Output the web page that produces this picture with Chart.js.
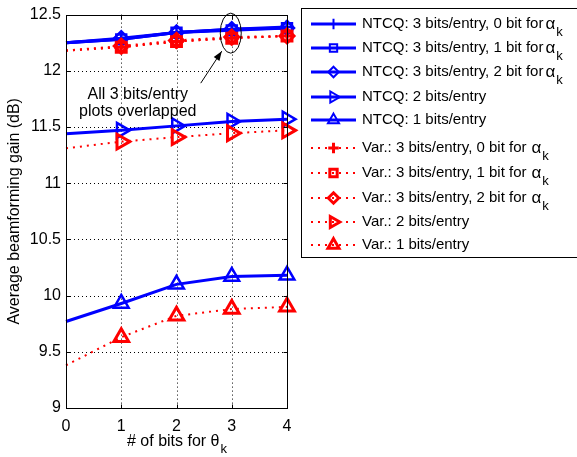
<!DOCTYPE html>
<html><head><meta charset="utf-8">
<script src="https://cdn.jsdelivr.net/npm/chart.js@4.4.0/dist/chart.umd.min.js"></script>
<style>html,body{margin:0;padding:0;background:#fff}#w{width:577px;height:457px;position:relative}</style>
</head><body>
<div id="w"><canvas id="c" width="577" height="457"></canvas></div>
<script>
// ---- data ----
const xValues = [0, 1, 2, 3, 4];
const yMin = 9, yMax = 12.5, yStep = 0.5;
const ntcq3b0 = [12.25, 12.28, 12.34, 12.37, 12.39];
const ntcq3b1 = [12.25, 12.28, 12.34, 12.36, 12.38];
const ntcq3b2 = [12.25, 12.29, 12.34, 12.37, 12.38];
const ntcq2   = [11.44, 11.47, 11.51, 11.55, 11.57];
const ntcq1   = [9.77, 9.93, 10.10, 10.17, 10.18];
const var3b0  = [12.18, 12.21, 12.26, 12.29, 12.31];
const var3b1  = [12.18, 12.21, 12.26, 12.29, 12.31];
const var3b2  = [12.18, 12.22, 12.27, 12.30, 12.31];
const var2    = [11.31, 11.37, 11.41, 11.445, 11.47];
const var1    = [9.38, 9.63, 9.82, 9.88, 9.90];
const legendTexts = [
  "NTCQ: 3 bits/entry, 0 bit for", "NTCQ: 3 bits/entry, 1 bit for", "NTCQ: 3 bits/entry, 2 bit for",
  "NTCQ: 2 bits/entry", "NTCQ: 1 bits/entry",
  "Var.: 3 bits/entry, 0 bit for", "Var.: 3 bits/entry, 1 bit for", "Var.: 3 bits/entry, 2 bit for",
  "Var.: 2 bits/entry", "Var.: 1 bits/entry"
];
const legendAlpha = [true, true, true, false, false, true, true, true, false, false];
const xTitle = "# of bits for θ";
const xTitleSub = "k";
const yTitle = "Average beamforming gain (dB)";
const noteLines = ["All 3 bits/entry", "plots overlapped"];
const noteTarget = {x: 3, y: 12.335};

const FONT = "'Liberation Sans', Arial, sans-serif";
const BLUE = '#0000ff', RED = '#ff0000';
const series = [
  {d: ntcq3b0, c: BLUE, m: 'cross', r: 7},
  {d: ntcq3b1, c: BLUE, m: 'rect', r: 7},
  {d: ntcq3b2, c: BLUE, m: 'diamond', r: 7},
  {d: ntcq2, c: BLUE, m: 'triR', r: 8.5},
  {d: ntcq1, c: BLUE, m: 'triU', r: 8.5},
  {d: var3b0, c: RED, m: 'cross', r: 7},
  {d: var3b1, c: RED, m: 'rect', r: 7},
  {d: var3b2, c: RED, m: 'diamond', r: 7},
  {d: var2, c: RED, m: 'triR', r: 8.5},
  {d: var1, c: RED, m: 'triU', r: 8.5}
];
const styleMap = {cross: ['cross', 0], rect: ['rect', 0], diamond: ['rectRot', 0], triR: ['triangle', 90], triU: ['triangle', 0]};

const datasets = series.map((s, i) => {
  const isVar = s.c === RED;
  return {
    label: legendTexts[i],
    data: xValues.map((x, k) => ({x: x, y: s.d[k]})),
    borderColor: s.c,
    backgroundColor: 'rgba(0,0,0,0)',
    borderWidth: isVar ? 2 : 3,
    borderDash: isVar ? [2, 5] : [],
    pointStyle: styleMap[s.m][0],
    rotation: styleMap[s.m][1],
    pointRadius: xValues.map((x, k) => k === 0 ? 0 : s.r),
    pointBorderWidth: isVar ? 3 : 2.5,
    pointBorderColor: s.c,
    pointBackgroundColor: 'rgba(0,0,0,0)',
    tension: 0,
    clip: false,
    order: isVar ? 0 : 1,
    _marker: s.m, _r: s.r
  };
});

function drawMarker(ctx, m, x, y, r, color, lw) {
  ctx.save();
  ctx.strokeStyle = color; ctx.lineWidth = lw; ctx.setLineDash([]);
  ctx.beginPath();
  if (m === 'cross') { ctx.moveTo(x - r, y); ctx.lineTo(x + r, y); ctx.moveTo(x, y - r); ctx.lineTo(x, y + r); }
  else if (m === 'rect') { const s = r * 0.7; ctx.rect(x - s, y - s, 2 * s, 2 * s); }
  else if (m === 'diamond') { ctx.moveTo(x, y - r); ctx.lineTo(x + r, y); ctx.lineTo(x, y + r); ctx.lineTo(x - r, y); ctx.closePath(); }
  else if (m === 'triR') { ctx.moveTo(x + r, y); ctx.lineTo(x - r * 0.5, y - r * 0.866); ctx.lineTo(x - r * 0.5, y + r * 0.866); ctx.closePath(); }
  else if (m === 'triU') { ctx.moveTo(x, y - r); ctx.lineTo(x + r * 0.866, y + r * 0.5); ctx.lineTo(x - r * 0.866, y + r * 0.5); ctx.closePath(); }
  ctx.stroke();
  ctx.restore();
}

const frame = {
  id: 'frame',
  beforeDatasetsDraw(chart) {
    const {ctx, chartArea: a, scales: {x, y}} = chart;
    ctx.save();
    ctx.strokeStyle = '#000'; ctx.lineWidth = 1; ctx.setLineDash([1, 3]);
    ctx.beginPath();
    x.ticks.forEach(t => { const px = Math.round(x.getPixelForValue(t.value)) + 0.5; if (px > a.left + 2 && px < a.right - 2) { ctx.moveTo(px, a.top); ctx.lineTo(px, a.bottom); } });
    y.ticks.forEach(t => { const py = Math.round(y.getPixelForValue(t.value)) + 0.5; if (py > a.top + 2 && py < a.bottom - 2) { ctx.moveTo(a.left, py); ctx.lineTo(a.right, py); } });
    ctx.stroke();
    ctx.restore();
  },
  afterDatasetsDraw(chart) {
    const {ctx, chartArea: a, scales: {x, y}} = chart;
    ctx.save();
    ctx.strokeStyle = '#000'; ctx.lineWidth = 1; ctx.setLineDash([]);
    const L = Math.round(a.left) + 0.5, R = Math.round(a.right) + 0.5, T = Math.round(a.top) + 0.5, B = Math.round(a.bottom) + 0.5;
    ctx.strokeRect(L, T, R - L, B - T);
    ctx.beginPath();
    const tl = 4;
    x.ticks.forEach(t => { const px = Math.round(x.getPixelForValue(t.value)) + 0.5; ctx.moveTo(px, B); ctx.lineTo(px, B - tl); ctx.moveTo(px, T); ctx.lineTo(px, T + tl); });
    y.ticks.forEach(t => { const py = Math.round(y.getPixelForValue(t.value)) + 0.5; ctx.moveTo(L, py); ctx.lineTo(L + tl, py); ctx.moveTo(R, py); ctx.lineTo(R - tl, py); });
    ctx.stroke();

    // annotation: ellipse, arrow, text
    const cx = x.getPixelForValue(noteTarget.x), cy = y.getPixelForValue(noteTarget.y);
    ctx.beginPath(); ctx.ellipse(cx - 1, cy, 10.5, 20, 0, 0, Math.PI * 2); ctx.stroke();
    const ax0 = cx - 31, ay0 = cy + 50, ax1 = cx - 10, ay1 = cy + 18;
    ctx.beginPath(); ctx.moveTo(ax0, ay0); ctx.lineTo(ax1, ay1); ctx.stroke();
    const ang = Math.atan2(ay1 - ay0, ax1 - ax0), hl = 10, hw = 0.35;
    ctx.fillStyle = '#000';
    ctx.beginPath(); ctx.moveTo(ax1, ay1);
    ctx.lineTo(ax1 - hl * Math.cos(ang - hw), ay1 - hl * Math.sin(ang - hw));
    ctx.lineTo(ax1 - hl * Math.cos(ang + hw), ay1 - hl * Math.sin(ang + hw));
    ctx.closePath(); ctx.fill();
    ctx.font = '16px ' + FONT; ctx.textAlign = 'center'; ctx.textBaseline = 'middle';
    noteLines.forEach((s, i) => ctx.fillText(s, cx - 94, cy + 61 + i * 17));
    ctx.restore();
  },
  afterDraw(chart) {
    const {ctx, chartArea: a} = chart;
    ctx.save();
    ctx.fillStyle = '#000';
    // x title with subscript
    ctx.font = '16px ' + FONT; ctx.textBaseline = 'alphabetic'; ctx.textAlign = 'left';
    const w1 = ctx.measureText(xTitle).width;
    ctx.font = '13px ' + FONT;
    const w2 = ctx.measureText(xTitleSub).width;
    const sx = (a.left + a.right) / 2 - (w1 + w2) / 2;
    ctx.font = '16px ' + FONT; ctx.fillText(xTitle, sx, 446);
    ctx.font = '13px ' + FONT; ctx.fillText(xTitleSub, sx + w1 + 1, 453);
    // y title
    ctx.save();
    ctx.translate(15, (a.top + a.bottom) / 2);
    ctx.rotate(-Math.PI / 2);
    ctx.font = '16px ' + FONT; ctx.textAlign = 'center'; ctx.textBaseline = 'middle';
    ctx.fillText(yTitle, 0, 0);
    ctx.restore();

    // legend
    const lx = 301.5, ly = 8.5, lw = 290, lh = 249;
    ctx.fillStyle = '#fff'; ctx.fillRect(lx, ly, lw, lh);
    ctx.strokeStyle = '#000'; ctx.lineWidth = 1; ctx.strokeRect(lx, ly, lw, lh);
    const rows = [24, 48, 72, 97, 120, 148, 173, 198, 222, 245];
    chart.data.datasets.forEach((ds, i) => {
      const yy = rows[i];
      ctx.save();
      ctx.strokeStyle = ds.borderColor; ctx.lineWidth = ds.borderWidth;
      ctx.setLineDash(ds.borderDash);
      ctx.beginPath(); ctx.moveTo(311, yy); ctx.lineTo(356, yy); ctx.stroke();
      ctx.restore();
      drawMarker(ctx, ds._marker, 333.5, yy, ds._r * 0.75, ds.borderColor, ds.borderColor === RED ? 3 : 2);
      ctx.fillStyle = '#000'; ctx.font = '15px ' + FONT; ctx.textAlign = 'left'; ctx.textBaseline = 'middle';
      const tx = 362;
      ctx.fillText(legendTexts[i], tx, yy);
      if (legendAlpha[i]) {
        const tw = ctx.measureText(legendTexts[i]).width;
        const gx = tx + tw + (ds.borderColor === RED ? 5 : 2);
        ctx.font = '17px ' + FONT; ctx.fillText('α', gx, yy);
        const aw = ctx.measureText('α').width;
        ctx.font = '13px ' + FONT; ctx.fillText('k', gx + aw + 1, yy + 8);
      }
    });
    ctx.restore();
  }
};

new Chart(document.getElementById('c'), {
  type: 'line',
  data: {datasets: datasets},
  options: {
    responsive: false, animation: false, events: [],
    layout: {padding: {left: 0, right: 290, top: 8, bottom: 0}},
    plugins: {legend: {display: false}, tooltip: {enabled: false}},
    scales: {
      x: {
        type: 'linear', min: xValues[0], max: xValues[xValues.length - 1],
        ticks: {stepSize: 1, color: '#000', font: {size: 16, family: FONT}, padding: 9, callback: v => String(v)},
        grid: {display: false, drawTicks: false}, border: {display: false},
        afterFit(s) { s.height = 49; }
      },
      y: {
        min: yMin, max: yMax,
        ticks: {stepSize: yStep, color: '#000', font: {size: 16, family: FONT}, padding: 5, callback: v => String(Math.round(v * 10) / 10)},
        grid: {display: false, drawTicks: false}, border: {display: false},
        afterFit(s) { s.width = 66; }
      }
    }
  },
  plugins: [frame]
});
</script>
</body></html>
